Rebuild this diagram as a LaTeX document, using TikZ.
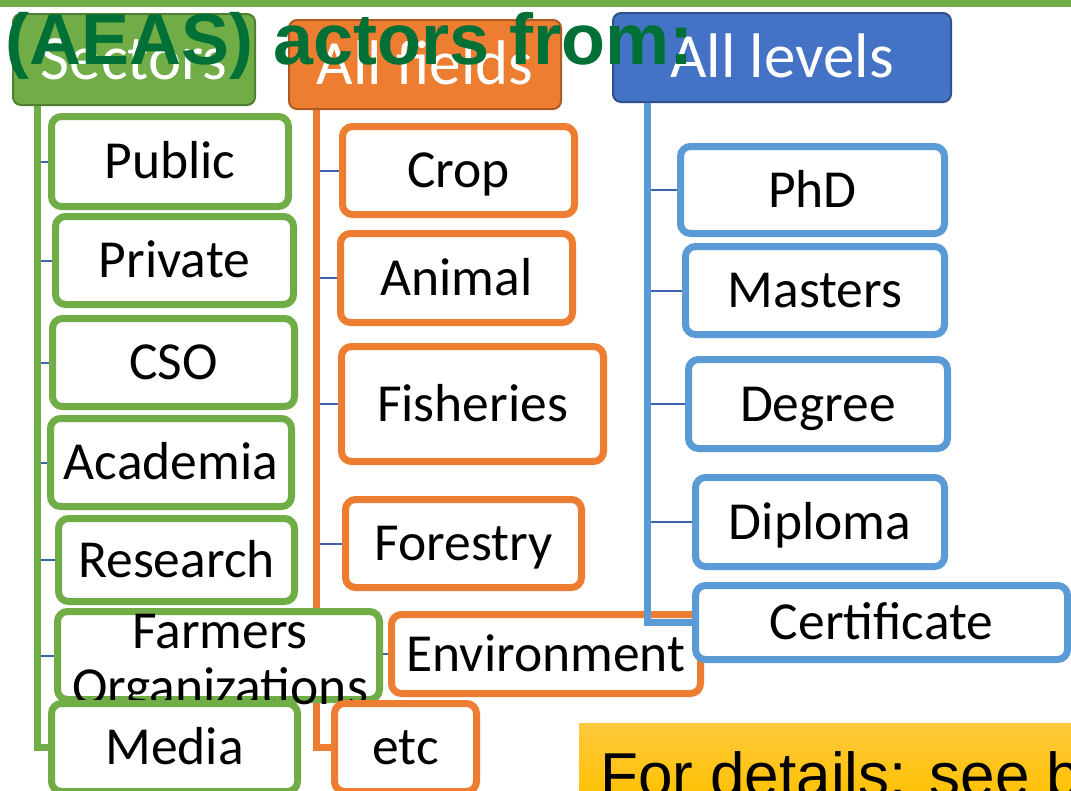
\documentclass[tikz,border=0pt]{standalone}
\usepackage{fontspec}
\setmainfont{Carlito}
\newfontfamily\titlefont{Liberation Sans}
\newfontfamily\arialfont{Liberation Sans}
\usetikzlibrary{calc}
\definecolor{cgreen}{RGB}{112,173,71}
\definecolor{cgreenD}{RGB}{80,126,50}
\definecolor{corange}{RGB}{237,125,49}
\definecolor{corangeD}{RGB}{174,90,33}
\definecolor{cblue}{RGB}{91,155,213}
\definecolor{cblueH}{RGB}{68,114,196}
\definecolor{cblueD}{RGB}{47,82,143}
\definecolor{ctick}{RGB}{61,99,178}
\definecolor{ctitle}{RGB}{0,112,55}
\definecolor{yelTop}{RGB}{255,201,62}
\definecolor{yelBot}{RGB}{255,193,0}
\pgfdeclarelayer{bg}
\pgfdeclarelayer{lA}
\pgfdeclarelayer{bA}
\pgfdeclarelayer{lB}
\pgfsetlayers{bg,lA,bA,lB,main}
% #1 style, #2 name, #3 x1, #4 y1, #5 x2, #6 y2, #7 inset (line width), #8 text
\newcommand\mybox[8]{%
  \pgfmathsetmacro\mybw{#5-#3-#7}%
  \pgfmathsetmacro\mybh{#6-#4-#7}%
  \node[#1, minimum width=\mybw pt, minimum height=\mybh pt] (#2) at ({(#3+#5)/2},{(#4+#6)/2}) {#8};}
\begin{document}
\begin{tikzpicture}[x=1pt,y=-1pt,
  cbox/.style={draw, line width=7pt, rounded corners=10pt, fill=white, text=black,
    inner sep=0pt, font=\fontsize{53.5}{58}\selectfont, text height=34.5pt, text depth=0pt},
  gbox/.style={cbox, draw=cgreen},
  obox/.style={cbox, draw=corange},
  bbox/.style={cbox, draw=cblue},
  hbox/.style={draw, line width=2pt, rounded corners=8pt, text=white, inner sep=0pt,
    font=\fontsize{63}{70}\selectfont, text height=40pt, text depth=0pt},
  colline/.style={line width=7pt},
  tick/.style={draw=ctick, line width=2pt}]
\useasboundingbox (0,0) rectangle (1071,790);

\begin{pgfonlayer}{bg}
\fill[white] (0,0) rectangle (1071,790);
\fill[cgreen] (0,0) rectangle (1071,7);
\end{pgfonlayer}

% headers
\begin{pgfonlayer}{bA}
\mybox{hbox, fill=cgreen, draw=cgreenD}{sectors}{12}{13}{256}{106}{2}{Sectors}
\mybox{hbox, fill=corange, draw=corangeD}{fields}{288}{19}{562}{110}{2}{All fields}
\mybox{hbox, fill=cblueH, draw=cblueD}{levels}{612}{12}{952}{103}{2}{All levels}
% green children
\mybox{gbox}{public}{48}{113}{292}{210}{7}{Public}
\mybox{gbox}{private}{52}{213}{297}{308}{7}{Private}
\mybox{gbox}{cso}{49}{315}{298}{410}{7}{CSO}
\mybox{gbox}{academia}{47}{415}{295}{510}{7}{Academia}
\mybox{gbox}{research}{55}{515}{298}{605}{7}{Research}
\mybox{gbox}{farmers}{54}{608}{383}{703}{7}{}
\node[anchor=north, align=center, inner sep=0pt, font=\fontsize{53.5}{56}\selectfont] (farmtxt) at (220,614) {Farmers\\Organizations};
\mybox{gbox}{media}{48}{700}{301}{795}{7}{Media}
% orange children
\mybox{obox}{crop}{339}{123}{578}{218}{7}{Crop}
\mybox{obox}{animal}{337}{230}{576}{326}{7}{Animal}
\mybox{obox}{fisheries}{338}{343}{607}{465}{7}{Fisheries}
\mybox{obox}{forestry}{342}{496}{585}{591}{7}{Forestry}
\mybox{obox}{environment}{388}{611}{704}{697}{7}{Environment}
\mybox{obox}{etc}{331}{700}{480}{795}{7}{etc}
\end{pgfonlayer}

% blue children
\mybox{bbox}{phd}{677}{143}{948}{237}{7}{PhD}
\mybox{bbox}{masters}{682}{243}{948}{338}{7}{Masters}
\mybox{bbox}{degree}{685}{356}{951}{452}{7}{Degree}
\mybox{bbox}{diploma}{692}{474}{948}{570}{7}{Diploma}
\mybox{bbox}{cert}{692}{582}{1071}{663}{7}{Certificate}

\coordinate (gx) at (37.5,0);
\coordinate (ox) at (316,0);
\coordinate (bx) at (647,0);

\begin{pgfonlayer}{lA}
\foreach \n in {public,private,cso,academia,research,farmers}
  \draw[tick] (\n.west -| gx) -- (\n.west);
\draw[colline, draw=cgreen] (sectors.south -| gx) |- (media.west);
\foreach \n in {crop,animal,fisheries,forestry,environment}
  \draw[tick] (\n.west -| ox) -- (\n.west);
\draw[colline, draw=corange] (fields.south -| ox) |- (etc.west);
\end{pgfonlayer}

\begin{pgfonlayer}{lB}
\foreach \n in {phd,masters,degree,diploma}
  \draw[tick] (\n.west -| bx) -- (\n.west);
\draw[colline, draw=cblue] (levels.south -| bx) |- (cert.west);
\end{pgfonlayer}

% details box
\begin{scope}
\clip (0,0) rectangle (1071,790);
\shade[top color=yelTop, bottom color=yelBot] (579,723) rectangle (1080,800);
\node[anchor=base west, inner sep=0pt, font=\arialfont\fontsize{62}{70}\selectfont] (details) at (600,796) {For details: see b};
\end{scope}

% title
\node[anchor=base west, inner sep=0pt, text=ctitle, font=\titlefont\bfseries\fontsize{72}{80}\selectfont] (title) at (5,64.5) {(AEAS) actors from:};
\end{tikzpicture}
\end{document}
